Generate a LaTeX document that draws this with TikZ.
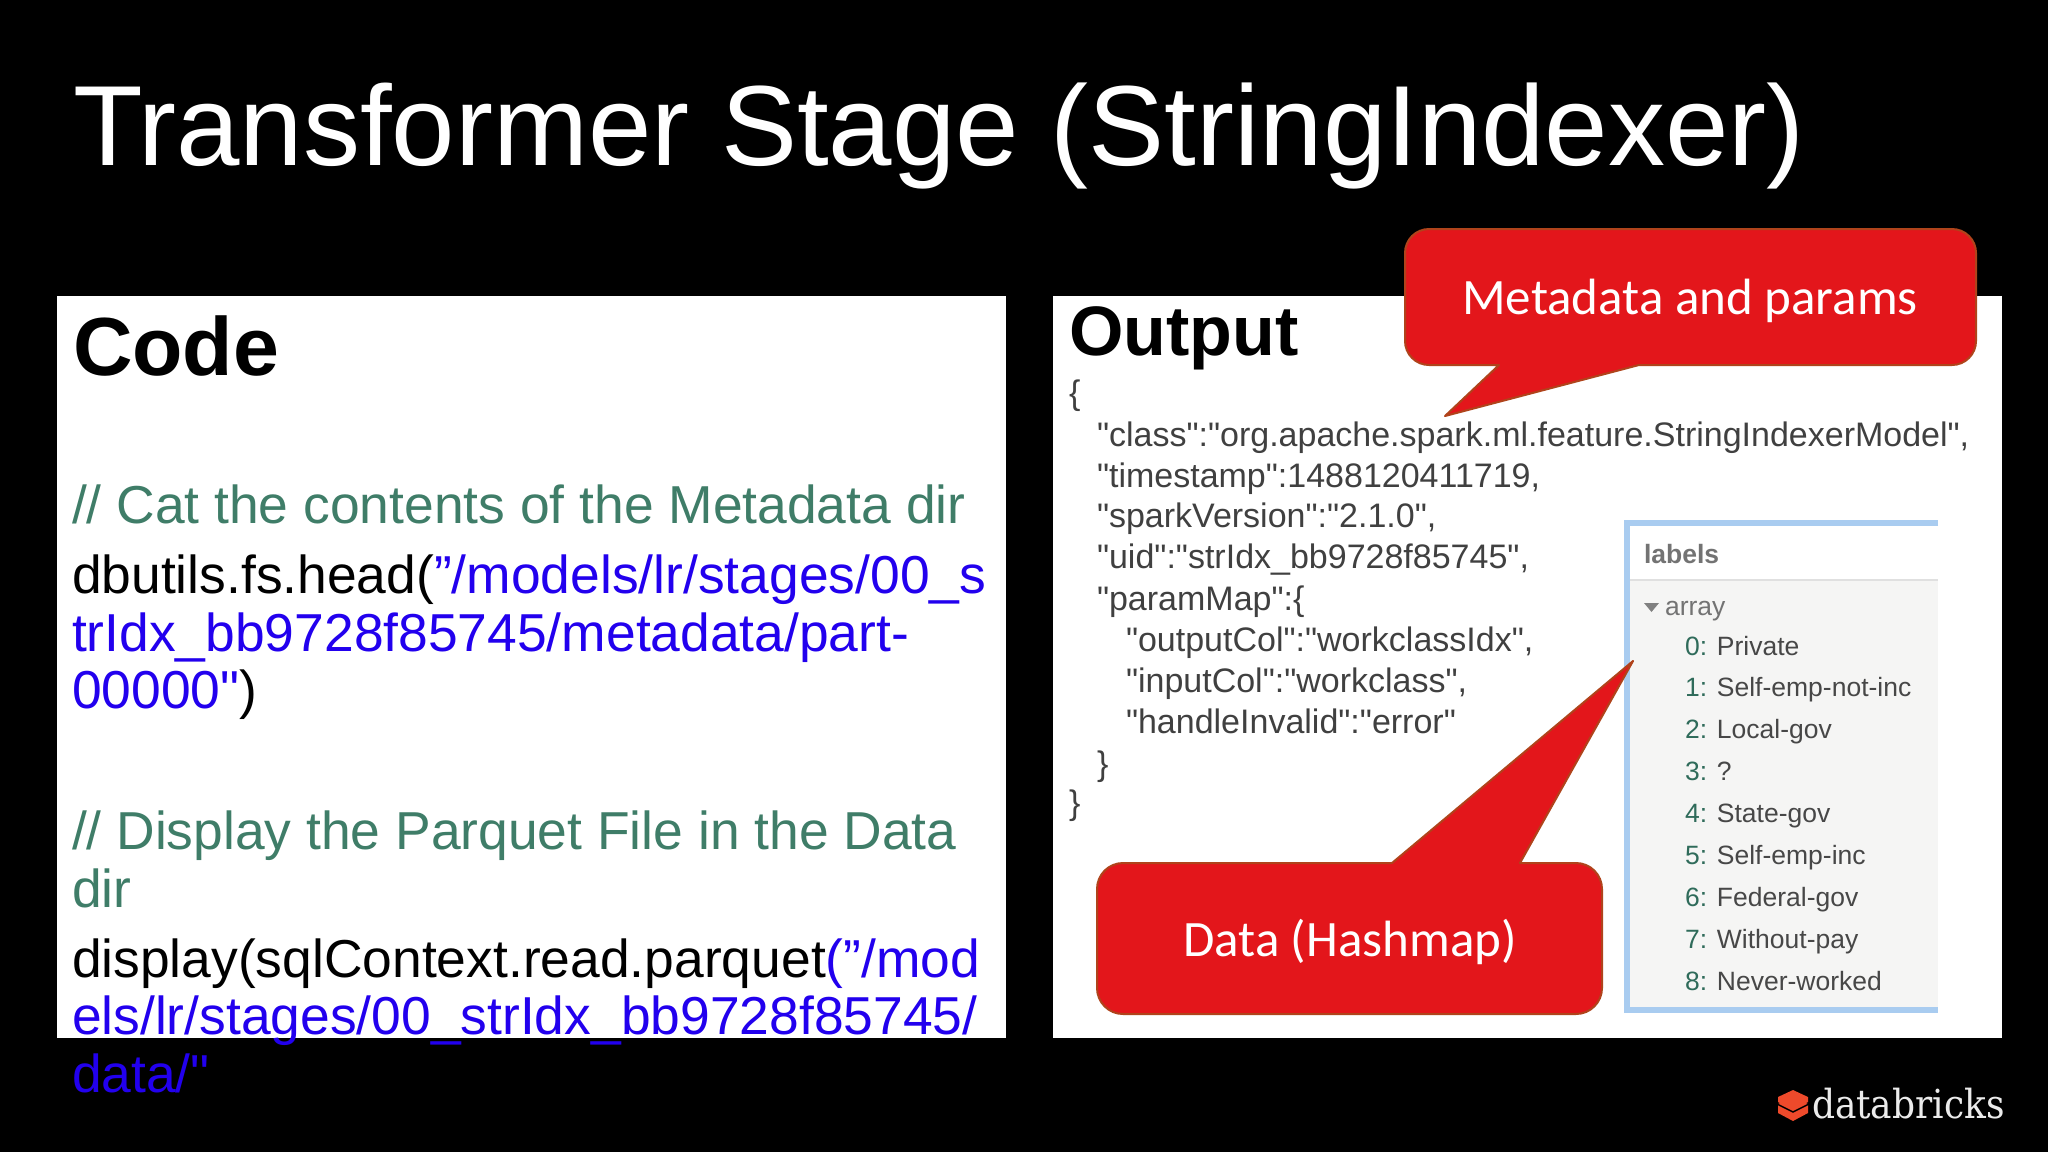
\documentclass[tikz,border=0pt]{standalone}
\usepackage{xcolor}
\usepackage{fontspec}
\setmainfont{Liberation Sans}[Ligatures=TeXOff]
\newfontfamily\calloutfont{Carlito}
\newfontfamily\brandfont{DejaVu Serif}
\definecolor{commentgreen}{HTML}{3F7D68}
\definecolor{pathblue}{HTML}{2200EE}
\definecolor{jsongray}{HTML}{404040}
\definecolor{calloutred}{HTML}{E3161B}
\definecolor{calloutedge}{HTML}{B0431B}
\definecolor{panelblue}{HTML}{A9CCF0}
\definecolor{panelgray}{HTML}{F5F5F4}
\definecolor{itemgreen}{HTML}{2F6B5A}
\definecolor{brickred}{HTML}{EE4A2B}
\begin{document}
\begin{tikzpicture}[x=1pt,y=-1pt,inner sep=0pt,outer sep=0pt]
	\tikzstyle{every node}=[anchor=base west]
	\tikzstyle{heading}=[font=\fontsize{114}{114}\selectfont,text=white]
	\tikzstyle{boxhead}=[font=\fontsize{82.5}{82.5}\selectfont\bfseries,text=black]
	\tikzstyle{codeline}=[font=\fontsize{53.4}{53.4}\selectfont,text=black]
	\tikzstyle{comment}=[codeline,text=commentgreen]
	\tikzstyle{pathline}=[codeline,text=pathblue]
	\tikzstyle{jsonline}=[font=\fontsize{34}{34}\selectfont,text=jsongray]
	\tikzstyle{labelline}=[font=\fontsize{26.5}{26.5}\selectfont,text=black!72]
	\tikzstyle{bubble}=[fill=calloutred,draw=calloutedge,line width=2pt,line join=round]
	\tikzstyle{bubbletext}=[anchor=base,font=\calloutfont\fontsize{51}{51}\selectfont,text=white]

	\useasboundingbox (0,0) rectangle (2048,1152);
	\fill[black] (0,0) rectangle (2048,1152);
	\node[heading] (title) at (73,165) {Transformer Stage (StringIndexer)};

	% white panels
	\fill[white] (57,296) rectangle (1006,1038);
	\fill[white] (1053,296) rectangle (2002,1038);

	% code panel
	\node[boxhead] (codehead) at (73,375) {Code};
	\node[comment] (c1) at (72,523) {// Cat the contents of the Metadata dir};
	\node[codeline] (c2) at (72,593) {dbutils.fs.head(\textcolor{pathblue}{”/models/lr/stages/00\_s}};
	\node[pathline] (c3) at (72,651) {trIdx\_bb9728f85745/metadata/part-};
	\node[pathline] (c4) at (72,708) {00000"\textcolor{black}{)}};
	\node[comment] (c5) at (72,849) {// Display the Parquet File in the Data};
	\node[comment] (c6) at (72,907) {dir};
	\node[codeline] (c7) at (72,977) {display(sqlContext.read.parquet\textcolor{pathblue}{(”/mod}};
	\node[pathline] (c8) at (72,1034) {els/lr/stages/00\_strIdx\_bb9728f85745/};
	\node[pathline] (c9) at (72,1092) {data/"};

	% output panel
	\node[boxhead,font=\fontsize{70}{70}\selectfont\bfseries] (outhead) at (1069,355) {Output};
	\node[jsonline] (j1) at (1069,404) {\{};
	\node[jsonline] (j2) at (1097,446) {"class":"org.apache.spark.ml.feature.StringIndexerModel",};
	\node[jsonline] (j3) at (1097,487) {"timestamp":1488120411719,};
	\node[jsonline] (j4) at (1097,527) {"sparkVersion":"2.1.0",};
	\node[jsonline] (j5) at (1097,568) {"uid":"strIdx\_bb9728f85745",};
	\node[jsonline] (j6) at (1097,610) {"paramMap":\{};
	\node[jsonline] (j7) at (1126,651) {"outputCol":"workclassIdx",};
	\node[jsonline] (j8) at (1126,692) {"inputCol":"workclass",};
	\node[jsonline] (j9) at (1126,733) {"handleInvalid":"error"};
	\node[jsonline] (j10) at (1097,775) {\}};
	\node[jsonline] (j11) at (1069,814) {\}};

	% labels screenshot
	\fill[white] (1628,523) rectangle (1938,580);
	\fill[panelgray] (1628,580) rectangle (1938,1010);
	\draw[black!12,line width=1.5pt] (1630,580) -- (1938,580);
	\draw[panelblue,line width=6pt] (1938,523) -- (1627,523) -- (1627,1010) -- (1938,1010);
	\node[labelline,text=black!55,font=\fontsize{26.5}{26.5}\selectfont\bfseries] (labelshead) at (1644,563) {labels};
	\fill[black!50] (1644,603) -- (1659,603) -- (1651.5,612) -- cycle;
	\node[labelline,text=black!55] (arrayhead) at (1665,615) {array};
	\foreach \i/\t in {0/Private,1/Self-emp-not-inc,2/Local-gov,3/?,4/State-gov,5/Self-emp-inc,6/Federal-gov,7/Without-pay,8/Never-worked}
	{
		\node[labelline] (item\i) at (1685,655+41.9*\i) {\textcolor{itemgreen}{\i:} \t};
	}

	% callouts
	\draw[bubble] (1499,365) -- (1445,416) -- (1639,365)
		[rounded corners=24] -- (1976,365) -- (1976,229) -- (1405,229) -- (1405,365) [sharp corners] -- cycle;
	\node[bubbletext] (metabubble) at (1690,314) {Metadata and params};
	\draw[bubble] (1392,863) -- (1633,661) -- (1520,863)
		[rounded corners=26] -- (1602,863) -- (1602,1014) -- (1097,1014) -- (1097,863) [sharp corners] -- cycle;
	\node[bubbletext] (databubble) at (1350,956) {Data (Hashmap)};

	% logo
	\fill[brickred] (1778,1104) -- (1793,1097) -- (1808,1104) -- (1808,1113) -- (1793,1121) -- (1778,1113) -- cycle;
	\draw[black,line width=1.5pt] (1777,1104) -- (1793,1112) -- (1809,1104);
	\fill[brickred] (1778,1097) -- (1793,1090) -- (1808,1097) -- (1808,1102) -- (1793,1110) -- (1778,1102) -- cycle;
	\node[font=\brandfont\fontsize{40}{40}\selectfont,text=white!92!black] (brand) at (1812,1118) {\scalebox{0.9}[1]{databricks}};
\end{tikzpicture}
\end{document}
